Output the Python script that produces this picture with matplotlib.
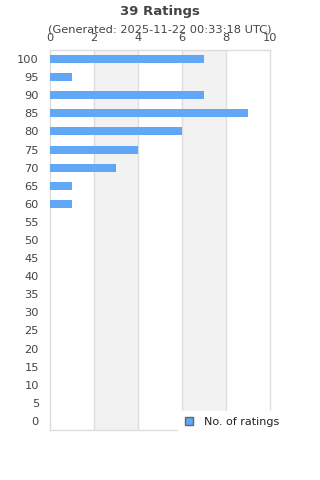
import matplotlib.pyplot as plt
from matplotlib.lines import Line2D

# ratings data
scores = [0, 5, 10, 15, 20, 25, 30, 35, 40, 45, 50, 55, 60, 65, 70, 75, 80, 85, 90, 95, 100]
counts = [0, 0, 0, 0, 0, 0, 0, 0, 0, 0, 0, 0, 1, 1, 3, 4, 6, 9, 7, 1, 7]
xticks = [0, 2, 4, 6, 8, 10]

bar_color = '#60a8f5'
txt = '#444444'
grid = '#dddddd'

fig = plt.figure(figsize=(3.2, 4.8), dpi=100)
ax = fig.add_axes([50 / 320, 1 - 430 / 480, 220 / 320, 380 / 480])

pos = list(range(len(scores)))
ax.barh(pos, counts, height=0.44, color=bar_color, zorder=3)

# alternating bands
for a in range(0, 10, 4):
    ax.axvspan(a + 2, a + 4, color='#f2f2f2', zorder=0, lw=0)
for x in xticks[1:-1]:
    ax.axvline(x, color=grid, lw=1, zorder=1)

ax.set_xlim(0, 10)
ax.set_ylim(-0.5, len(scores) - 0.5)
ax.set_xticks(xticks)
ax.set_yticks(pos)
ax.set_yticklabels([str(s) for s in scores])
ax.xaxis.tick_top()
ax.tick_params(axis='both', length=0, labelsize=8.2, colors=txt)
ax.tick_params(axis='x', pad=5)
ax.tick_params(axis='y', pad=8)
for s in ax.spines.values():
    s.set_color(grid)
    s.set_linewidth(1)

fig.text(0.5, 1 - 11 / 480, '39 Ratings', ha='center', va='center',
         fontsize=9.5, fontweight='bold', color=txt)
fig.text(0.5, 1 - 29 / 480, '(Generated: 2025-11-22 00:33:18 UTC)', ha='center',
         va='center', fontsize=8.2, color=txt)

handle = Line2D([], [], marker='s', linestyle='none', markersize=6,
                markerfacecolor=bar_color, markeredgecolor='#666666', markeredgewidth=1)
leg = fig.legend([handle], ['No. of ratings'], loc='upper left',
                 bbox_to_anchor=(178 / 320, 1 - 411 / 480), fontsize=8,
                 frameon=True, fancybox=False, framealpha=1, facecolor='white',
                 edgecolor='white', borderpad=0.5, handlelength=1, handletextpad=0.8,
                 borderaxespad=0, labelcolor='#222222')
leg.set_zorder(10)

fig.savefig('out.png', dpi=100)
